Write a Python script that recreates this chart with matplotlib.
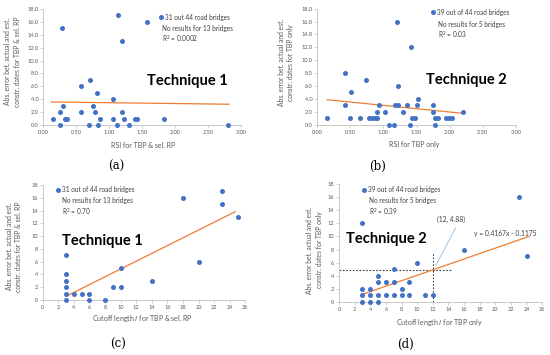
import matplotlib
matplotlib.use("Agg")
import matplotlib.pyplot as plt
import numpy as np

# ---------------- data ----------------
a_x = [0.29, 1.13, 1.58, 1.20, 0.57, 0.71, 0.82, 1.06, 0.30, 0.76, 0.25, 0.58, 0.79, 1.20,
       0.15, 0.34, 0.37, 0.87, 1.06, 1.22, 1.39, 1.42, 1.83, 0.25, 0.69, 0.84, 1.12, 1.30, 2.80]
a_y = [15, 17, 16, 13, 6, 7, 5, 4, 3, 3, 2, 2, 2, 2,
       1, 1, 1, 1, 1, 1, 1, 1, 1, 0, 0, 0, 0, 0, 0]

b_x = [1.20, 1.42, 0.42, 0.74, 1.225, 0.51, 1.53,
       0.42, 0.93, 1.18, 1.22, 1.36, 1.51, 1.745,
       0.90, 1.03, 1.29, 1.75, 2.21,
       0.15, 0.49, 0.65, 0.78, 0.82, 0.87, 0.91, 1.43, 1.48, 1.78, 1.83, 1.94, 1.99, 2.03,
       1.08, 1.165, 1.40, 1.785]
b_y = [16, 12, 8, 7, 6, 5, 4,
       3, 3, 3, 3, 3, 3, 3,
       2, 2, 2, 2, 2,
       1, 1, 1, 1, 1, 1, 1, 1, 1, 1, 1, 1, 1, 1,
       0, 0, 0, 0]

c_x = [3, 3, 3, 3, 3, 3, 4, 5, 6, 6, 8, 9, 10, 10, 14, 18, 20, 23, 23, 25]
c_y = [0, 1, 2, 3, 4, 7, 1, 1, 1, 0, 0, 2, 2, 5, 3, 16, 6, 17, 15, 13]

d_x = [3, 4, 5, 3, 4, 5, 6, 7, 8, 9, 11, 12, 3, 4, 8, 5, 6, 7, 9, 5, 7, 10, 16, 24, 23, 3]
d_y = [0, 0, 0, 1, 1, 1, 1, 1, 1, 1, 1, 1, 2, 2, 2, 3, 3, 3, 3, 4, 5, 6, 8, 7, 16, 12]

# trend lines: slope, intercept, x-start, x-end
trend_a = [-0.13, 3.62, 0.13, 2.82]
trend_b = [-1.03, 4.03, 0.15, 2.22]
trend_c = [0.61, -1.25, 3.0, 24.7]
trend_d = [0.4167, -0.1175, 3.0, 24.3]

legend_a = ["31 out 44 road bridges", "No results for 13 bridges", "R$^2$ = 0.0002"]
legend_b = ["39 out of 44 road bridges", "No results for 5 bridges", "R$^2$ = 0.03"]
legend_c = ["31 out of 44 road bridges", "No results for 13 bridges", "R$^2$ = 0.70"]
legend_d = ["39 out of 44 road bridges", "No results for 5 bridges", "R$^2$ = 0.39"]

xlabels = ["RSI for TBP & sel. RP", "RSI for TBP only",
           "Cutoff length $\\it{l}$ for TBP & sel. RP", "Cutoff length $\\it{l}$ for TBP only"]
ylabels = ["Abs. error bet. actual and est.\nconstr. dates for TBP & sel. RP",
           "Abs. error bet. actual and est.\nconstr. dates for TBP only",
           "Abs. error bet. actual and est.\nconstr. dates for TBP & sel. RP",
           "Abs. error bet. actual and est.\nconstr. dates for TBP only"]
techniques = ["Technique 1", "Technique 2", "Technique 1", "Technique 2"]
panel_labels = ["(a)", "(b)", "(c)", "(d)"]

point_value = (12, 4.88)
point_text = "(12, 4.88)"
eq_text = "y = 0.4167x - 0.1175"

# ---------------- style ----------------
W, H = 550, 355
BLUE = "#4472C4"
ORANGE = "#ED7D31"
TICKC = "#595959"
AXC = "#BFBFBF"
FONT = "Lato"

fig = plt.figure(figsize=(W / 100, H / 100), dpi=100)
fig.patch.set_facecolor("white")


def rect(x0, x1, y_bottom, y_top):
    return [x0 / W, 1 - y_bottom / H, (x1 - x0) / W, (y_bottom - y_top) / H]


rects = [rect(43.0, 241.0, 125.3, 8.7),
         rect(317.3, 515.7, 124.7, 8.7),
         rect(42.7, 245.3, 300.0, 185.0),
         rect(339.0, 542.3, 301.7, 184.3)]

xs = [a_x, b_x, c_x, d_x]
ys = [a_y, b_y, c_y, d_y]
trends = [trend_a, trend_b, trend_c, trend_d]
legends = [legend_a, legend_b, legend_c, legend_d]

axes = []
for i in range(4):
    ax = fig.add_axes(rects[i])
    axes.append(ax)
    ax.set_facecolor("none")
    for s in ["top", "right"]:
        ax.spines[s].set_visible(False)
    for s in ["left", "bottom"]:
        ax.spines[s].set_color(AXC)
        ax.spines[s].set_linewidth(0.6)
    ax.tick_params(axis="both", length=2, width=0.5, color=AXC, labelsize=4.1,
                   labelcolor=TICKC, pad=1.5)
    ax.set_ylim(0, 18)
    if i < 2:
        ax.set_xlim(0, 3)
        ax.set_xticks(np.arange(0, 3.01, 0.5))
        ax.set_xticklabels([f"{v:.2f}" for v in np.arange(0, 3.01, 0.5)], family=FONT)
        ax.set_yticks(np.arange(0, 18.1, 2))
        ax.set_yticklabels([f"{v:.1f}" for v in np.arange(0, 18.1, 2)], family=FONT)
    else:
        ax.set_xlim(0, 26)
        ax.set_xticks(np.arange(0, 26.1, 2))
        ax.set_xticklabels([f"{int(v)}" for v in np.arange(0, 26.1, 2)], family=FONT)
        ax.set_yticks(np.arange(0, 18.1, 2))
        ax.set_yticklabels([f"{int(v)}" for v in np.arange(0, 18.1, 2)], family=FONT)

    ax.scatter(xs[i], ys[i], s=13, color=BLUE, zorder=3, clip_on=False, linewidths=0)
    m, b0, x0, x1 = trends[i]
    tx = np.array([x0, x1])
    ax.plot(tx, m * tx + b0, color=ORANGE, lw=0.9, zorder=2)

# legend-like texts (axes fraction positions)
leg_pos = [(0.596, 0.602, [0.926, 0.826, 0.738]),
           (0.585, 0.61, [0.969, 0.868, 0.771]),
           (0.077, 0.094, [0.957, 0.863, 0.759]),
           (0.123, 0.146, [0.954, 0.866, 0.758])]
for i, ax in enumerate(axes):
    mx, tx, yl = leg_pos[i]
    ax.scatter([mx], [yl[0]], s=13, color=BLUE, transform=ax.transAxes, clip_on=False,
               linewidths=0, zorder=4)
    ax.text(mx + 0.02, yl[0], legends[i][0], transform=ax.transAxes, fontsize=4.7,
            family=FONT, color="#404040", va="center", ha="left")
    ax.text(tx, yl[1], legends[i][1], transform=ax.transAxes, fontsize=4.7,
            family=FONT, color="#404040", va="center", ha="left")
    ax.text(tx, yl[2], legends[i][2], transform=ax.transAxes, fontsize=4.7,
            family=FONT, color="#404040", va="center", ha="left")

# technique labels (data coords)
tech_pos = [(2.19, 6.8), (2.25, 6.9), (7.7, 9.3), (6.0, 9.6)]
for i, ax in enumerate(axes):
    ax.text(tech_pos[i][0], tech_pos[i][1], techniques[i], fontsize=10.5, fontweight="bold",
            family=FONT, color="black", ha="center", va="center")

# panel (d) extras
axd = axes[3]
axd.plot([0, 14.4], [point_value[1], point_value[1]], color="#404040", lw=0.8,
         ls=(0, (1.5, 1.5)), zorder=1)
axd.plot([point_value[0], point_value[0]], [0, 7.4], color="#404040", lw=0.8,
         ls=(0, (1.5, 1.5)), zorder=1)
axd.plot([14.9, 12.4], [11.3, 5.6], color="#9DC3E6", lw=0.7, zorder=2)
axd.text(14.3, 12.6, point_text, fontsize=4.9, family=FONT, color="#404040",
         ha="center", va="center")
axd.text(21.3, 10.4, eq_text, fontsize=4.9, family=FONT, color="#404040",
         ha="center", va="center")

# axis labels via figure coordinates
xl_pos = [(143, 145), (414, 145), (142, 318), (440, 322)]
yl_pos = [(12.5, 61.7), (286, 62.5), (14, 246.5), (314.7, 250)]
for i in range(4):
    fig.text(xl_pos[i][0] / W, 1 - xl_pos[i][1] / H, xlabels[i], fontsize=5.0,
             family=FONT, color=TICKC, ha="center", va="center")
    fig.text(yl_pos[i][0] / W, 1 - yl_pos[i][1] / H, ylabels[i], fontsize=4.9,
             family=FONT, color=TICKC, ha="center", va="center", rotation=90,
             linespacing=1.4)

pl_pos = [(116.7, 166.7), (378, 166.7), (118, 344), (405, 344)]
for i in range(4):
    fig.text(pl_pos[i][0] / W, 1 - pl_pos[i][1] / H, panel_labels[i], fontsize=8.5,
             family="DejaVu Serif", color="black", ha="center", va="center")

fig.savefig("out.png", dpi=100, facecolor="white")
